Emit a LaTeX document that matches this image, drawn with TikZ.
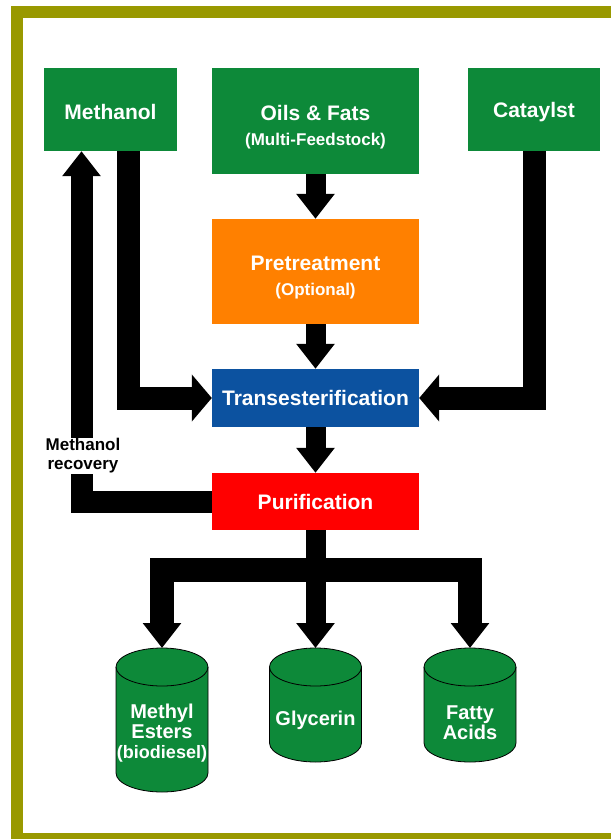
\documentclass[tikz,border=0pt]{standalone}
\usepackage{fontspec}
\setmainfont{Liberation Sans}
\usepackage{tikz}
\usetikzlibrary{arrows.meta}

\definecolor{frameolive}{RGB}{153,153,0}
\definecolor{boxgreen}{RGB}{13,137,57}
\definecolor{boxorange}{RGB}{255,128,0}
\definecolor{boxblue}{RGB}{12,82,160}
\definecolor{boxred}{RGB}{255,0,0}
\newcommand{\subfont}{\bfseries\fontsize{17}{19}\selectfont}
\newcommand{\topgap}{\rule{0pt}{27pt}}

\begin{document}
\begin{tikzpicture}[x=1pt,y=-1pt,
    stage/.style={rectangle, inner sep=0pt, text=white, align=center,
        font=\bfseries\fontsize{21}{24}\selectfont},
    flow/.style={line width=20pt, -{Triangle[length=25pt,width=37pt]}},
    sideflow/.style={line width=23pt, -{Triangle[length=20pt,width=46pt]}},
    tanktext/.style={text=white, align=center,
        font=\bfseries\fontsize{20}{20}\selectfont}]
            \useasboundingbox (0,0) rectangle (611,839);

            % Frame (right side runs off the picture)
            \fill[frameolive] (11,6) rectangle (611,18);
            \fill[frameolive] (11,6) rectangle (23,839);
            \fill[frameolive] (11,833) rectangle (611,839);

            % Inputs
            \node[stage, fill=boxgreen, minimum width=133pt, minimum height=83pt] (methanol) at (110.5,109.5) {\rule{0pt}{20pt}Methanol};
            \node[stage, fill=boxgreen, minimum width=207pt, minimum height=106pt] (oils) at (315.5,121) {\topgap Oils \& Fats\\[1pt]{\subfont (Multi-Feedstock)}};
            \node[stage, fill=boxgreen, minimum width=132pt, minimum height=83pt] (catalyst) at (534,109.5) {\rule{0pt}{20pt}Cataylst};

            % Process steps
            \node[stage, fill=boxorange, minimum width=207pt, minimum height=105pt] (pretreat) at (315.5,271.5) {\topgap Pretreatment\\[1pt]{\subfont (Optional)}};
            \node[stage, fill=boxblue, minimum width=207pt, minimum height=58pt] (trans) at (315.5,398) {Transesterification};
            \node[stage, fill=boxred, minimum width=207pt, minimum height=57pt] (purif) at (315.5,501.5) {Purification};

            % Products: tanks (centre x / bottom ellipse y), top ellipse at y=667
            \foreach \cx/\cy in {162/773, 315.5/743, 470/743}{
                \filldraw[fill=boxgreen, draw=black, line width=0.8pt]
                    (\cx-46,667) -- (\cx-46,\cy) arc[start angle=180, end angle=0, x radius=46, y radius=19]
                    -- (\cx+46,667) arc[start angle=0, end angle=-180, x radius=46, y radius=19] -- cycle;
                \draw[line width=0.8pt] (\cx-46,667) arc[start angle=180, end angle=0, x radius=46, y radius=19];
            }
            \coordinate (esters) at (162,648);
            \coordinate (glycerin) at (315.5,648);
            \coordinate (acids) at (470,648);
            \node[tanktext] (esterslabel) at (162,733) {Methyl\\Esters\\{\fontsize{18}{20}\selectfont(biodiesel)}};
            \node[tanktext] (glycerinlabel) at (315.5,720) {Glycerin};
            \node[tanktext] (acidslabel) at (470,723) {Fatty\\Acids};

            % Main line
            \draw[flow] (oils) -- (pretreat);
            \draw[flow] (pretreat) -- (trans);
            \draw[flow] (trans) -- (purif);

            % Side feeds
            \draw[sideflow] ([xshift=17.5pt]methanol.south) |- (trans.west);
            \draw[sideflow] (catalyst.south) |- (trans.east);

            % Methanol recovery loop
            \draw[flow, line width=22pt] (purif.west) -| ([xshift=-29pt]methanol.south);
            \node[fill=white, inner sep=1pt, align=center, font=\bfseries\fontsize{17}{19}\selectfont] (recovery) at (83,456) {Methanol\\recovery};

            % Split to products
            \coordinate (split) at (315.5,570);
            \draw[line width=20pt] (purif.south) -- (split);
            \draw[flow, line width=24pt] (split) -| (esters);
            \draw[flow] (split) -- (glycerin);
            \draw[flow, line width=24pt] (split) -| (acids);
        \end{tikzpicture}
\end{document}
